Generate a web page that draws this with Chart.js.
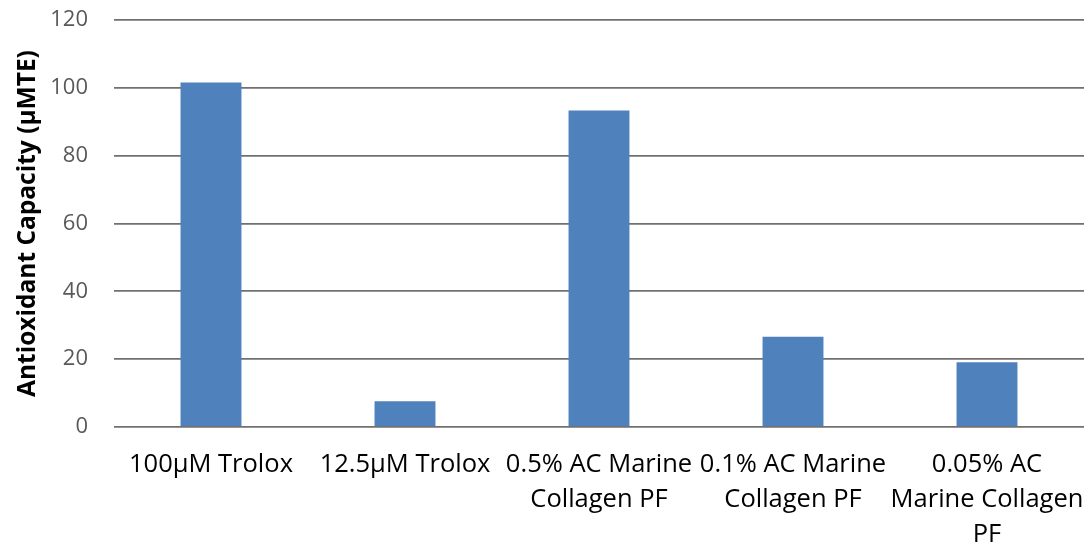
<!DOCTYPE html>
<html>
<head>
<meta charset="utf-8">
<script src="https://cdn.jsdelivr.net/npm/chart.js@4/dist/chart.umd.min.js"></script>
<style>
html,body{margin:0;padding:0;background:#fff;}
#wrap{width:1086px;height:545px;position:relative;}
</style>
</head>
<body>
<div id="wrap"><canvas id="c" width="1086" height="545"></canvas></div>
<script>
const categories = [
  "100µM Trolox",
  "12.5µM Trolox",
  ["0.5% AC Marine", "Collagen PF"],
  ["0.1% AC Marine", "Collagen PF"],
  ["0.05% AC", "Marine Collagen", "PF"]
];
const antioxidantValues = [101.6, 7.6, 93.3, 26.6, 19.1];
const yTicks = [0, 20, 40, 60, 80, 100, 120];
const yTitle = "Antioxidant Capacity (µMTE)";

const FONT = "'Open Sans', 'Noto Sans', sans-serif";

new Chart(document.getElementById('c'), {
  type: 'bar',
  data: {
    labels: categories,
    datasets: [{
      data: antioxidantValues,
      backgroundColor: '#4F81BD',
      borderWidth: 0,
      barPercentage: 0.314,
      categoryPercentage: 1.0
    }]
  },
  options: {
    responsive: false,
    animation: false,
    devicePixelRatio: 1,
    layout: { padding: { top: 20, right: 2, left: 0, bottom: 0 } },
    plugins: { legend: { display: false }, tooltip: { enabled: false } },
    scales: {
      x: {
        grid: { display: false, drawTicks: false },
        border: { display: false },
        ticks: {
          color: '#000',
          font: { family: FONT, size: 25.5, lineHeight: 1.37 },
          padding: 20,
          maxRotation: 0,
          minRotation: 0,
          autoSkip: false
        },
        afterFit: s => { s.height = 118; s.paddingLeft = 0; s.paddingRight = 0; s.paddingTop = 0; s.paddingBottom = 0; }
      },
      y: {
        min: 0, max: 120,
        afterBuildTicks: s => { s.ticks = yTicks.map(v => ({ value: v })); },
        grid: { color: '#707070', lineWidth: 1.8, drawTicks: false },
        border: { display: false },
        ticks: {
          color: '#595959',
          font: { family: FONT, size: 22 },
          padding: 26
        },
        title: {
          display: true,
          text: yTitle,
          color: '#000',
          font: { family: FONT, size: 24.5, weight: 'bold' },
          padding: { top: 13, bottom: 0 }
        },
        afterFit: s => { s.width = 114; s.paddingTop = 0; s.paddingBottom = 0; s.paddingLeft = 0; s.paddingRight = 0; }
      }
    }
  }
});
</script>
</body>
</html>
